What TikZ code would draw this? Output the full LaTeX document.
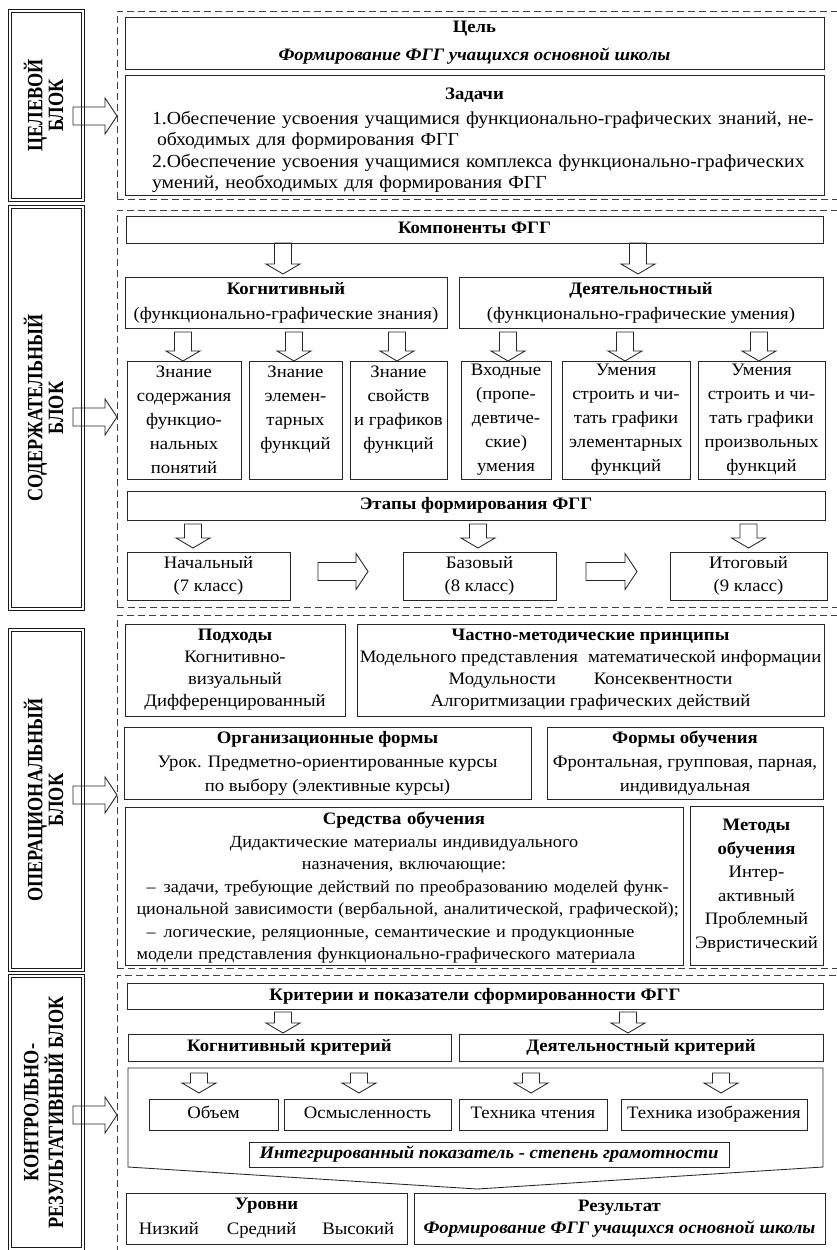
\documentclass[tikz,border=0pt]{standalone}
\usepackage{fontspec}
\usepackage{graphicx}
\setmainfont{Liberation Serif}[FakeStretch=1.07]
\newfontfamily\blkfont{Liberation Serif}
\usetikzlibrary{calc}

% rotated title of a block
\newcommand{\blklbl}[1]{\rotatebox{90}{\scalebox{1}[1.2]{\blkfont\bfseries\fontsize{18.2}{17}\selectfont
  \begin{tabular}{@{}c@{}}#1\end{tabular}}}}

\begin{document}
\begin{tikzpicture}[
    x=1pt, y=-1pt,
    font={\fontsize{17.5}{22}\selectfont},
    ln/.style={draw=black!85,line width=0.85pt},
    base/.style={ln,inner sep=0pt,outer sep=0pt,align=center,anchor=north west},
    wh/.style 2 args={minimum width=#1pt,minimum height=#2pt},
    lsk/.style={font={\fontsize{17.5}{#1}\selectfont}},
    oneline/.style={text height=12.5pt,text depth=4pt},
    blk/.style={base,draw=black!90,line width=0.9pt,double,double distance=1.3pt},
    cont/.style={draw=black!75,line width=0.7pt,dash pattern=on 7pt off 4pt,inner sep=0pt,outer sep=0pt,anchor=north west},
    barrowd/.style={ln,to path={let \p1=(\tikztostart), \p2=(\tikztotarget) in
        (\x2-8.5pt,\y1) -- (\x2+8.5pt,\y1) -- (\x2+8.5pt,\y2+10pt) -- (\x2+17pt,\y2+10pt)
        -- (\x2,\y2) -- (\x2-17pt,\y2+10pt) -- (\x2-8.5pt,\y2+10pt) -- cycle}},
    barrowr/.style={ln,to path={let \p1=(\tikztostart), \p2=(\tikztotarget) in
        (\x1,\y1+9pt) -- (\x2-12pt,\y1+9pt) -- (\x2-12pt,\y1+18pt) -- (\x2,\y1)
        -- (\x2-12pt,\y1-18pt) -- (\x2-12pt,\y1-9pt) -- (\x1,\y1-9pt) -- cycle}},
]
    \useasboundingbox (0,0) rectangle (837,1250);

    % blocks on the left
    \node[blk,wh={73}{189}] (blk1) at (10,11)  {\blklbl{ЦЕЛЕВОЙ\\БЛОК}};
    \node[blk,wh={73}{402}] (blk2) at (10,207) {\blklbl{СОДЕРЖАТЕЛЬНЫЙ\\БЛОК}};
    \node[blk,wh={73}{340}] (blk3) at (10,630) {\blklbl{ОПЕРАЦИОНАЛЬНЫЙ\\БЛОК}};
    \node[blk,wh={73}{273}] (blk4) at (10,976) {\blklbl{КОНТРОЛЬНО-\\РЕЗУЛЬТАТИВНЫЙ БЛОК}};

    \node[cont,minimum width=723pt,minimum height=188pt] (c1) at (117,11)  {};
    \node[cont,minimum width=723pt,minimum height=397pt] (c2) at (117,210) {};
    \node[cont,minimum width=723pt,minimum height=353pt] (c3) at (117,615) {};
    \node[cont,minimum width=723pt,minimum height=285pt] (c4) at (117,975) {};

    \draw[barrowr] ([xshift=-10pt,yshift=-10.5pt]blk1.east) to (c1.west);
    \draw[barrowr] ([xshift=-10pt,yshift=-9pt]blk2.east)    to (c2.west);
    \draw[barrowr] ([xshift=-10pt,yshift=5pt]blk3.east)     to (c3.west);
    \draw[barrowr] ([xshift=-10pt,yshift=-2.5pt]blk4.east)  to (c4.west);

    % goal block
    \node[base,wh={699}{52},lsk=28] (goal) at (125,17) {\textbf{Цель}\\\textbf{\textit{Формирование ФГГ учащихся основной школы}}};
    \node[base,wh={699}{120},text width=695pt,font={\fontsize{18.4}{21.5}\selectfont}] (tasks) at (125,75) {%
        \rule{0pt}{22pt}{\fontsize{17.5}{21.5}\selectfont\textbf{Задачи}}\\[3pt]
        \hspace*{25pt}\makebox[670pt][s]{1.Обеспечение усвоения учащимися функционально-графических знаний, не-}\\
        \hspace*{30pt}\makebox[665pt][l]{обходимых для формирования ФГГ}\\
        \hspace*{25pt}\makebox[670pt][s]{2.Обеспечение усвоения учащимися комплекса функционально-графических}\\
        \hspace*{25pt}\makebox[670pt][l]{умений, необходимых для формирования ФГГ}};

    % content block
    \node[base,wh={697}{27},oneline] (komp)  at (126,216) {\textbf{Компоненты ФГГ}};
    \node[base,wh={322}{51},lsk=25]  (kogn)  at (125,277) {\textbf{Когнитивный}\\(функционально-графические знания)};
    \node[base,wh={364}{51},lsk=25]  (deyat) at (459,277) {\textbf{Деятельностный}\\(функционально-графические умения)};

    \node[base,wh={114}{118},lsk=24] (z1) at (127,361) {Знание\\содержания\\функцио-\\нальных\\понятий};
    \node[base,wh={93}{118},lsk=24]  (z2) at (249,361) {Знание\\элемен-\\тарных\\функций\\\mbox{}};
    \node[base,wh={97}{118},lsk=24]  (z3) at (350,361) {Знание\\свойств\\и графиков\\функций\\\mbox{}};
    \node[base,wh={90}{118},lsk=24]  (u1) at (461,361) {Входные\\(пропе-\\девтиче-\\ские)\\умения};
    \node[base,wh={128}{118},lsk=24] (u2) at (562,361) {Умения\\строить и чи-\\тать графики\\элементарных\\функций};
    \node[base,wh={127}{118},lsk=24] (u3) at (698,361) {Умения\\строить и чи-\\тать графики\\произвольных\\функций};

    \node[base,wh={698}{29},oneline] (etapy) at (127,491) {\textbf{Этапы формирования ФГГ}};
    \node[base,wh={163}{48},lsk=23]  (nach)  at (127,552) {Начальный\\(7 класс)};
    \node[base,wh={153}{48},lsk=23]  (baz)   at (403,552) {Базовый\\(8 класс)};
    \node[base,wh={157}{48},lsk=23]  (itog)  at (670,552) {Итоговый\\(9 класс)};

    \draw[barrowd] (komp.south) to ([xshift=-3pt,yshift=3pt]kogn.north);
    \draw[barrowd] (komp.south) to ([xshift=-3pt,yshift=3pt]deyat.north);
    \draw[barrowd] ([yshift=-4pt]kogn.south) to ([xshift=-1pt]z1.north);
    \draw[barrowd] ([yshift=-4pt]kogn.south) to ([xshift=-1.5pt]z2.north);
    \draw[barrowd] ([yshift=-4pt]kogn.south) to ([xshift=-1.5pt]z3.north);
    \draw[barrowd] ([yshift=-4pt]deyat.south) to ([xshift=2pt]u1.north);
    \draw[barrowd] ([yshift=-4pt]deyat.south) to ([xshift=-1pt]u2.north);
    \draw[barrowd] ([yshift=-4pt]deyat.south) to ([xshift=-2.5pt]u3.north);
    \draw[barrowd] ([yshift=-4pt]etapy.south) to ([xshift=-15.5pt,yshift=4pt]nach.north);
    \draw[barrowd] ([yshift=-4pt]etapy.south) to ([xshift=-1.5pt,yshift=4pt]baz.north);
    \draw[barrowd] ([yshift=-4pt]etapy.south) to ([yshift=4pt]itog.north);
    \draw[barrowr] ([xshift=28pt,yshift=4.5pt]nach.east) to ([xshift=-35pt]baz.west);
    \draw[barrowr] ([xshift=30pt,yshift=4.5pt]baz.east)  to ([xshift=-33pt]itog.west);

    % operational block
    \node[base,wh={220}{92}] (podh)  at (125,624) {\textbf{Подходы}\\Когнитивно-\\визуальный\\Дифференцированный};
    \node[base,wh={467}{92}] (princ) at (357,624) {\textbf{Частно-методические принципы}\\
        Модельного представления\hspace{10pt}математической информации\\
        Модульности\hspace{38pt}Консеквентности\\Алгоритмизации графических действий};
    \node[base,wh={407}{72},lsk=24] (org)   at (124,727) {\textbf{Организационные формы}\\Урок. Предметно-ориентированные курсы\\по выбору (элективные курсы)};
    \node[base,wh={276}{72},lsk=24] (formy) at (547,727) {\textbf{Формы обучения}\\Фронтальная, групповая, парная,\\индивидуальная};
    \node[base,wh={558}{158},text width=552pt,font={\fontsize{17}{22.5}\selectfont}] (sredstva) at (125,807) {%
        \rule{0pt}{16pt}{\fontsize{17.5}{22.5}\selectfont\textbf{Средства обучения}}\\
        Дидактические материалы индивидуального\\назначения, включающие:\\
        \makebox[535pt][s]{\hspace*{10pt}–\hspace{8pt}задачи, требующие действий по преобразованию моделей функ-}\\
        \makebox[535pt][l]{циональной зависимости (вербальной, аналитической, графической);}\\
        \makebox[535pt][s]{\hspace*{10pt}–\hspace{8pt}логические, реляционные, семантические и продукционные}\\
        \makebox[535pt][l]{модели представления функционально-графического материала}};
    \node[base,wh={133}{159},lsk=23.5] (metody) at (690,806) {\textbf{Методы}\\\textbf{обучения}\\Интер-\\активный\\Проблемный\\Эвристический};

    % control and result block
    \node[base,wh={696}{26},oneline] (krit)  at (127,983)  {\textbf{Критерии и показатели сформированности ФГГ}};
    \node[base,wh={323}{27},oneline] (kkrit) at (128,1034) {\textbf{Когнитивный критерий}};
    \node[base,wh={364}{27},oneline] (dkrit) at (459,1034) {\textbf{Деятельностный критерий}};

    \coordinate (pent) at (128,1068);
    \draw[ln] (pent) -- (823,1068) -- (823,1167) -- (477,1189) -- (128,1167) -- cycle;

    \node[base,wh={129}{31},oneline] (obem)   at (149,1099) {Объем};
    \node[base,wh={167}{31},oneline] (osm)    at (284,1099) {Осмысленность};
    \node[base,wh={148}{31},oneline] (tchten) at (459,1099) {Техника чтения};
    \node[base,wh={186}{31},oneline] (tizobr) at (621,1099) {Техника изображения};
    \node[base,wh={480}{25},oneline] (integ)  at (249,1142) {\textbf{\textit{Интегрированный показатель - степень грамотности}}};

    \node[base,wh={281}{51},lsk=25] (urovni) at (126,1193) {\textbf{Уровни}\\Низкий\hspace{28pt}Средний\hspace{26pt}Высокий};
    \node[base,wh={411}{51}]        (result) at (414,1193) {\textbf{Результат}\\\textbf{\textit{Формирование ФГГ учащихся основной школы}}};

    \draw[barrowd] ([yshift=-3pt]krit.south) to ([xshift=-6.5pt,yshift=1pt]kkrit.north);
    \draw[barrowd] ([yshift=-3pt]krit.south) to ([xshift=-13pt,yshift=1pt]dkrit.north);
    \draw[barrowd] ([yshift=-5pt]pent) to ([xshift=-14.5pt,yshift=6pt]obem.north);
    \draw[barrowd] ([yshift=-5pt]pent) to ([xshift=-8.5pt,yshift=6pt]osm.north);
    \draw[barrowd] ([yshift=-5pt]pent) to ([xshift=-2pt,yshift=6pt]tchten.north);
    \draw[barrowd] ([yshift=-5pt]pent) to ([xshift=7pt,yshift=6pt]tizobr.north);

\end{tikzpicture}
\end{document}
